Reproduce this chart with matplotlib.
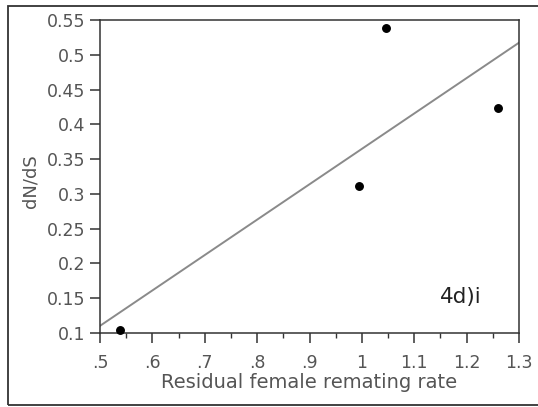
import numpy as np
import matplotlib
matplotlib.use("Agg")
import matplotlib.pyplot as plt
from matplotlib.patches import Rectangle
from matplotlib.ticker import MultipleLocator, FixedLocator

# Residual female remating rate vs dN/dS
remating = [0.538, 0.995, 1.046, 1.260]
dnds = [0.104, 0.311, 0.538, 0.424]

x_ticks = [0.5, 0.6, 0.7, 0.8, 0.9, 1.0, 1.1, 1.2, 1.3]
x_labels = [".5", ".6", ".7", ".8", ".9", "1", "1.1", "1.2", "1.3"]
y_ticks = [0.1, 0.15, 0.2, 0.25, 0.3, 0.35, 0.4, 0.45, 0.5, 0.55]
y_labels = ["0.1", "0.15", "0.2", "0.25", "0.3", "0.35", "0.4", "0.45", "0.5", "0.55"]

text_col = "#555555"
plt.rcParams["font.family"] = ["DejaVu Sans"]

fig = plt.figure(figsize=(5.38, 4.07), dpi=100)
fig.patch.set_facecolor("white")

# outer frame around the panel
fig.patches.append(Rectangle((8 / 538, 1 - 405 / 407), 1.2, (405 - 6) / 407,
                             transform=fig.transFigure, fill=False,
                             edgecolor="#333333", linewidth=1.3))

ax = fig.add_axes([100 / 538, 1 - 333 / 407, 419 / 538, 313 / 407])

# least-squares fit line across the x range
slope, intercept = np.polyfit(remating, dnds, 1)
xl = np.array([0.5, 1.3])
ax.plot(xl, slope * xl + intercept, color="#8a8a8a", linewidth=1.4, zorder=2)

ax.plot(remating, dnds, "o", color="black", markersize=5.4, zorder=3,
        clip_on=False)

ax.set_xlim(0.5, 1.3)
ax.set_ylim(0.1, 0.55)
ax.xaxis.set_major_locator(FixedLocator(x_ticks))
ax.set_xticklabels(x_labels)
ax.xaxis.set_minor_locator(MultipleLocator(0.05))
ax.yaxis.set_major_locator(FixedLocator(y_ticks))
ax.set_yticklabels(y_labels)

ax.tick_params(axis="both", which="major", direction="out", length=7,
               width=1.1, color="#333333", labelsize=12.5, labelcolor=text_col)
ax.tick_params(axis="x", which="major", pad=8)
ax.tick_params(axis="y", which="major", pad=3.5)
ax.tick_params(axis="x", which="minor", direction="out", length=3.5,
               width=1.0, color="#333333")
ax.tick_params(axis="y", which="minor", length=0)

for s in ax.spines.values():
    s.set_color("#333333")
    s.set_linewidth(1.1)

ax.set_xlabel("Residual female remating rate", fontsize=14, color=text_col,
              labelpad=1)
fig.text(31 / 538, 1 - 181 / 407, "dN/dS", rotation=90, fontsize=13,
         color=text_col, ha="center", va="center")

ax.text(1.189, 0.152, "4d)i", fontsize=15.5, color="#222222", ha="center",
        va="center")

fig.savefig("out.png", dpi=100, facecolor="white")
